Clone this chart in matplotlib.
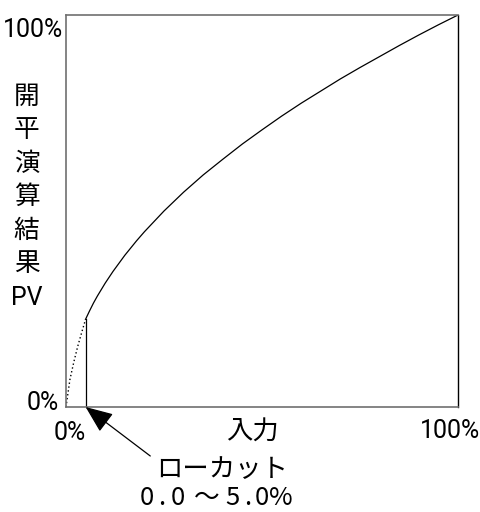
import matplotlib
matplotlib.use('Agg')
import matplotlib.pyplot as plt

# ——— DATA (% of full scale) ———
# dotted part below the low cut
cut_x = [0, 1, 2, 3, 4, 5]
cut_y = [0, 7.0, 11.5, 15.5, 19.0, 22.4]

# solid square-root curve above the low cut
curve_x = [5, 6, 7, 8, 10, 12, 15, 18, 20, 25, 30, 35, 40, 45, 50,
           55, 60, 65, 70, 75, 80, 85, 90, 95, 100]
curve_y = [22.4, 24.5, 26.5, 28.3, 31.6, 34.6, 38.7, 42.4, 44.7, 50.0,
           54.8, 59.2, 63.2, 67.1, 70.7, 74.2, 77.5, 80.6, 83.7, 86.6,
           89.4, 92.2, 94.9, 97.5, 100]

low_cut = 5.0
y_label_chars = ['開', '平', '演', '算', '結', '果']
y_label_tail = 'PV'
x_label = '入力'
cut_label = 'ローカット'
cut_range = '0.0〜5.0%'

W, H = 480, 512
jp = ['Noto Sans CJK JP', 'DejaVu Sans']
num = ['Roboto', 'DejaVu Sans']

fig = plt.figure(figsize=(W / 100, H / 100), dpi=100)


def ptext(x, y, s, size, ha='center', va='baseline', **kw):
    # x, y in pixels from the top-left corner
    fig.text(x / W, 1 - y / H, s, ha=ha, va=va, fontsize=size, **kw)


# ——— AXES ———
ax = fig.add_axes([66 / W, (H - 407) / H, 392 / W, 392 / H])
ax.set_xlim(0, 100)
ax.set_ylim(0, 100)
ax.set_xticks([])
ax.set_yticks([])
for side in ['top', 'left', 'bottom']:
    ax.spines[side].set_color('#707070')
    ax.spines[side].set_linewidth(1.2)
ax.spines['right'].set_color('black')
ax.spines['right'].set_linewidth(1.0)

ax.plot(cut_x, cut_y, color='black', lw=1.0, ls=(0, (1, 1.8)))
ax.plot(curve_x, curve_y, color='black', lw=0.9)
ax.plot([low_cut, low_cut], [0, curve_y[0]], color='black', lw=0.9)

# ——— END LABELS ———
ptext(63, 37, '100%', 18, ha='right', family=num)
ptext(59, 410, '0%', 18, ha='right', family=num)
ptext(69.5, 440, '0%', 18, family=num)
ptext(450, 438, '100%', 18, family=num)

# ——— AXIS TITLES ———
ptext(252, 440, x_label, 19, family=jp)
for i, ch in enumerate(y_label_chars):
    ptext(26.5, 104 + i * 33.4, ch, 18.5, family=jp)
ptext(26.5, 305, y_label_tail, 18, family=num)

# ——— LOW CUT NOTE ———
ax.annotate('', xy=(low_cut, 0), xytext=(21.5, -12.5),
            arrowprops=dict(arrowstyle='-|>,head_length=1.7,head_width=0.7',
                            color='black', lw=0.9, shrinkA=0, shrinkB=0),
            annotation_clip=False)
ptext(222, 477, cut_label, 19, family=jp)
# fixed-pitch look: one character at a time
char_x = [146.5, 162, 178, 207, 232, 248, 261.5, 281]
for cx, ch in zip(char_x, cut_range):
    ptext(cx, 505, ch, 18.5, family=jp)

fig.savefig('out.png', dpi=100)
